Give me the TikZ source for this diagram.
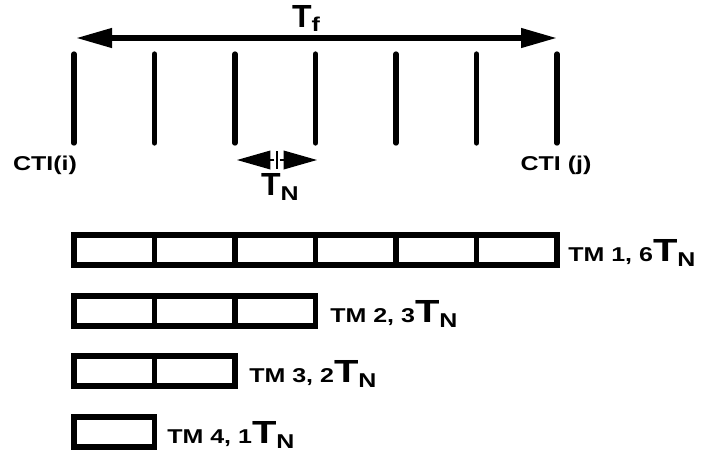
\documentclass[tikz,border=0pt]{standalone}
\usepackage{fontspec}
\setmainfont{Liberation Sans}
\newfontfamily\lblfont[FakeStretch=1.25]{Liberation Sans}
\usetikzlibrary{arrows.meta}
\newcommand{\smalltxt}{\lblfont\bfseries\fontsize{15}{17}\selectfont}
\newcommand{\bigtxt}{\bfseries\fontsize{24}{27}\selectfont}
\newcommand{\subtxt}{\lblfont\bfseries\fontsize{15}{17}\selectfont}
\newcommand{\TN}{{\bigtxt T}\raisebox{-4pt}{\subtxt N}}
\tikzset{
  thick line/.style={line width=4pt, line cap=round},
  boxline/.style={line width=4pt},
  lbl/.style={anchor=base west, inner sep=0pt},
  bigarrow/.style={line width=4pt, {Triangle[length=27pt,width=14pt]}-{Triangle[length=27pt,width=14pt]}},
  smallhead/.style={line width=1pt, -{Triangle[length=25pt,width=14pt]}},
}
\begin{document}
\begin{tikzpicture}[x=0.75pt,y=-0.75pt]
\useasboundingbox (0,0) rectangle (704,455);
% time grid lines
\foreach \i/\x in {0/74,1/154.5,2/235,3/315.5,4/396,5/476.5,6/557}{
  \coordinate (top\i) at (\x,54);
  \coordinate (bot\i) at (\x,143);
  \draw[thick line] (top\i) -- (bot\i);
}
% Tf arrow
\coordinate (tfL) at (76,38);
\coordinate (tfR) at (557,38);
\draw[bigarrow] (tfL) -- (tfR);
\node[anchor=base, inner sep=0pt] (tf) at (306,27) {{\bigtxt T}\raisebox{-3pt}{\subtxt f}};
% CTI labels
\node[anchor=base, inner sep=0pt] (ctii) at (45,170) {\smalltxt CTI(i)};
\node[anchor=base, inner sep=0pt] (ctij) at (556,170) {\smalltxt CTI (j)};
% TN arrow
\coordinate (tnC) at (277,160);
\coordinate (tnL) at (237,160);
\coordinate (tnR) at (317,160);
\draw[smallhead] ([xshift=-2pt]tnC) -- (tnL);
\draw[smallhead] ([xshift=2pt]tnC) -- (tnR);
\draw[line width=1.5pt] (277,151) -- (277,169);
\node[anchor=base, inner sep=0pt] (tn) at (280,195) {\TN};
% TM rows
\foreach \row/\y/\n in {1/235/6,2/296/3,3/356/2,4/417/1}{
  \pgfmathsetmacro{\xr}{74+80.5*\n}
  \draw[boxline] (74,\y) rectangle (\xr,\y+30);
  \ifnum\n>1
    \foreach \k in {1,...,\numexpr\n-1\relax}{
      \draw[boxline] ({74+80.5*\k},\y) -- ({74+80.5*\k},\y+30);
    }
  \fi
}
\node[lbl] (tm1) at (568,261) {\smalltxt TM 1, 6\TN};
\node[lbl] (tm2) at (330,322) {\smalltxt TM 2, 3\TN};
\node[lbl] (tm3) at (249,382) {\smalltxt TM 3, 2\TN};
\node[lbl] (tm4) at (167,443) {\smalltxt TM 4, 1\TN};
\end{tikzpicture}
\end{document}
